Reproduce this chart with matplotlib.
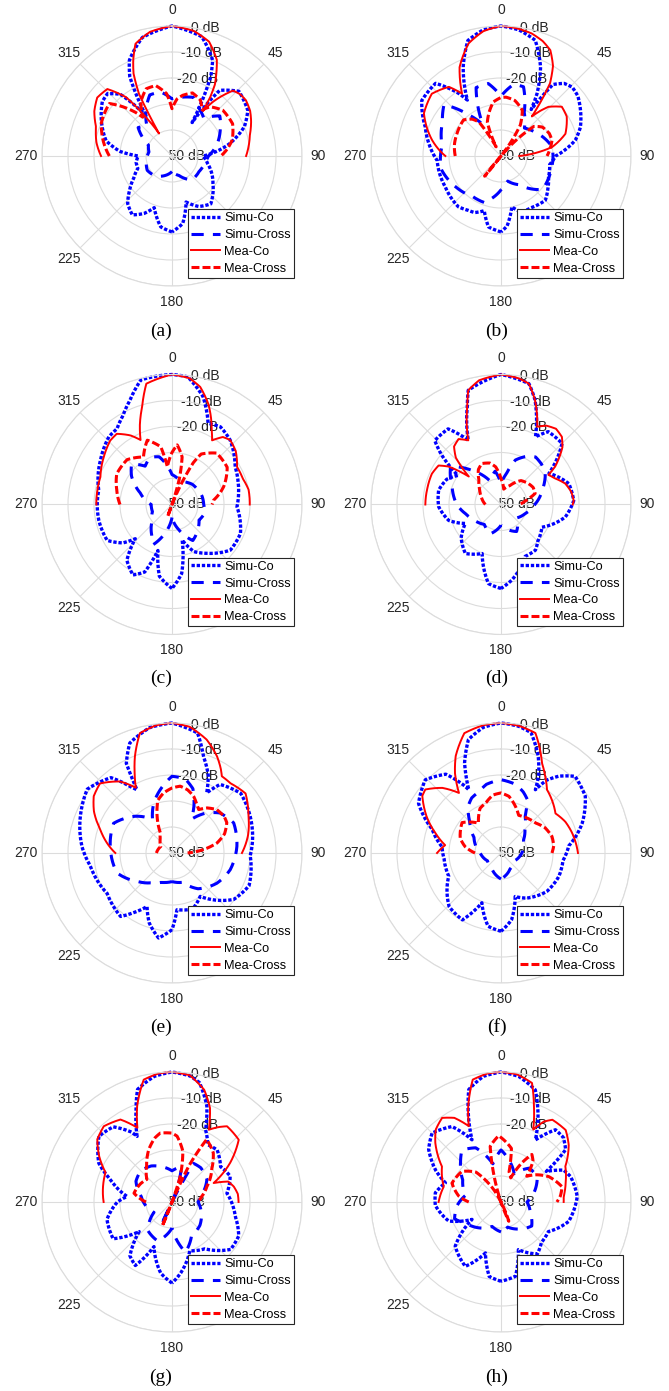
import numpy as np
import matplotlib
matplotlib.use("Agg")
import matplotlib.pyplot as plt
from matplotlib.transforms import ScaledTranslation

plt.rcParams['font.family'] = ['Liberation Sans', 'DejaVu Sans']

# ------------------------------------------------------------------
# Radiation patterns (angle in degrees, clockwise from broadside; level in dB)
# sc = simulated co-pol, sx = simulated cross-pol,
# mc = measured co-pol,  mx = measured cross-pol
# ------------------------------------------------------------------
a_sc_ang = [-180, -171, -161, -154, -146, -137, -129, -120, -110, -100, -90, -85, -77, -63, -52, -46, -40, -33, -28, -24,
            -14, 0, 14, 23, 26, 31, 36, 46, 59, 68, 78, 90, 102, 115, 124, 141, 152, 163, 171, 180]
a_sc_db = [-20.8, -22.4, -29, -25.4, -22.7, -25, -29, -33, -36, -36, -37, -30, -24, -19.5, -16, -15.5, -19, -32, -15.4, -9.7,
           -3, 0, -2.7, -10, -16, -35, -18.8, -14.2, -16, -20, -27.4, -38, -36, -33, -31, -26.3, -28, -31.5, -23.7, -20.8]
a_sx_ang = [-180, -160, -140, -120, -100, -80, -65, -50, -40, -30, -20, -10, 0, 10, 20, 30, 40, 50, 62, 75, 90, 100, 120, 140, 160, 180]
a_sx_db = [-44, -42, -40, -39, -40, -41, -40, -33, -35, -30, -25, -25, -28, -27, -26, -29, -31, -26, -29, -32, -36, -37, -38, -38, -42, -44]
a_mc_ang = [-90, -80, -69, -60, -52, -44, -38, -34, -30, -28, -25, -22, -18, -10, 0, 10, 18, 25, 31, 33, 34.5, 37, 39, 43, 48, 53, 60, 66, 75, 90]
a_mc_db = [-22.7, -20.5, -18.7, -15.5, -13.5, -14.2, -21.3, -32, -40, -23, -15, -10.2, -4.6, -1.5, 0, -1.2, -3.8, -9.2, -18, -23,
           -29, -24, -21, -15.6, -14.6, -14.4, -15.3, -16.7, -19, -21.5]
a_mx_ang = [-90, -78, -65, -55, -50, -45, -40, -37, -30, -21, -13, -5, 0, 5, 10, 18, 27, 33, 38, 48, 62, 75, 84, 90]
a_mx_db = [-25.9, -23, -20, -19, -18.6, -23.2, -28, -31.3, -26, -22.3, -22.2, -25.9, -31.8, -28, -26.3, -24.5, -25.9, -28.8,
           -26, -23.7, -23.6, -26, -29, -31.2]

b_sc_ang = [-180, -170, -163, -155, -149, -140, -119, -94, -80, -69, -55, -42, -34, -31, -23, -16, -8, 0, 8, 16.5,
            24, 30, 33, 36, 41, 46, 52, 60, 70, 78, 90, 100, 114, 125, 135, 150, 160, 168, 175, 180]
b_sc_db = [-20.8, -22.3, -28, -26, -25.6, -24.5, -25.5, -25.4, -21.8, -18.8, -12.8, -12.4, -21, -24.9, -12.8, -3.8, -1, 0, -1, -3.6,
           -12.6, -22.3, -28.7, -16, -13, -11.9, -12.5, -14.7, -17.5, -20.8, -29, -31, -30, -28, -25.9, -27, -27, -30, -23, -20.8]
b_sx_ang = [-180, -160, -145, -125, -102, -80, -60, -48, -38, -30, -20, -10, 0, 10, 18, 28, 40, 55, 80, 106, 129, 148, 165, 180]
b_sx_db = [-37, -31, -31, -29, -26.4, -27, -24, -20.5, -30, -36, -22, -21.7, -27, -22, -22, -31, -36, -34, -30, -30, -29.5, -37, -40, -37]
b_mc_ang = [-90, -77, -61, -48, -37, -32, -25, -16, -8, 0, 7, 14, 20, 25, 30, 34, 36, 38, 41, 44, 51, 59, 71, 80, 86, 90]
b_mc_db = [-28.6, -22.8, -16.1, -14.2, -16.7, -21.7, -12.3, -4.9, -1.5, 0, -0.5, -1.4, -3, -5.1, -10, -16.3, -23.4, -30.7,
           -27, -23.7, -19.9, -20.5, -23.8, -30, -38, -43]
b_mx_ang = [-90, -75, -63, -46, -38, -33, -28, -22, -16, -8, 0, 5, 14, 25, 32, 36, 39, 42, 48, 55, 65, 73, 82, 90]
b_mx_db = [-32.4, -31.5, -31, -30, -32, -34.4, -46, -36, -33, -29, -27.5, -27.3, -28, -30.6, -36, -45, -60, -45, -33, -30.6,
           -29.5, -29.5, -31, -32.3]

c_sc_ang = [-180, -170, -163, -158, -151, -141, -133, -128, -119, -102, -79, -58, -43, -36, -29, -22, -14, 0, 7, 16,
            24, 32, 42, 59, 70, 80, 92, 113, 128, 144, 155, 164, 172, 180]
c_sc_db = [-17.7, -22, -31.5, -22, -19, -22.4, -30.7, -26, -21.5, -21.2, -21.3, -17.6, -14.4, -14, -11, -6.8, -0.6, 0, -0.5, -6.8,
           -15.8, -14.8, -16.6, -21.7, -23, -24, -25, -21.4, -21.5, -26.8, -30, -35.8, -23.2, -17.7]
c_sx_ang = [-180, -165, -155, -146, -130, -110, -90, -70, -55, -45, -35, -25, -15, 0, 15, 30, 45, 60, 75, 90, 105, 120, 135, 150, 165, 180]
c_sx_db = [-45, -38, -33, -36, -40, -42, -42, -37, -31, -28, -32, -30, -31, -38.5, -40, -40, -39, -38.6, -38, -37.8, -37, -38, -36, -34, -40, -45]
c_mc_ang = [-90, -80, -69, -55, -44, -38, -31, -26, -22, -17, -12, 0, 8, 13.5, 20, 24, 28, 32, 37, 42, 50, 60, 70, 79, 90]
c_mc_db = [-20.9, -20.8, -20.5, -18, -15.8, -15.5, -19, -22.4, -17, -10.7, -2.5, 0, -1, -3.5, -9, -13.2, -17.5, -20.9,
           -17.5, -16.6, -18, -21.1, -21, -20, -20.1]
c_mx_ang = [-90, -75, -61, -45, -31, -21, -11, -7, 0, 5, 12, 16, 20, 24, 27, 30, 41, 56, 71, 84, 90]
c_mx_db = [-30, -28, -25.7, -25.6, -28.7, -23.5, -27.4, -35.4, -30, -27, -31.3, -40, -55, -42, -32, -27.6, -23.8, -24.4,
           -29, -33.9, -34.6]

d_sc_ang = [-180, -171, -159, -144, -130, -118, -107, -92, -77, -65, -56, -50, -46, -35, -27, -19, -16, 0, 13, 18,
            27, 33, 45, 57, 73, 87, 101, 119, 135, 143, 155, 172, 180]
d_sc_db = [-17.7, -19.2, -29.8, -26.7, -30, -34.5, -29, -26, -25.4, -27, -30, -20, -14.6, -14.5, -22.3, -10.2, -4.3, 0, -2.3, -7.7,
           -20.8, -16.6, -16.8, -28, -22.7, -22, -24.8, -32, -30, -28, -28, -20.6, -17.7]
d_sx_ang = [-180, -160, -140, -120, -105, -90, -70, -53, -40, -25, -10, 0, 10, 18, 28, 36, 45, 55, 70, 90, 110, 130, 150, 165, 180]
d_sx_db = [-42, -38, -40, -38, -36, -33, -30, -25.7, -33, -40, -37, -42, -38, -32, -29, -27.4, -28, -29.2, -33, -37, -40, -42, -38, -40, -42]
d_mc_ang = [-90, -78, -66, -58, -54, -49, -44, -39, -33, -27, -19, -16, -10, 0, 8, 13, 18, 22, 25, 30, 36, 42, 47, 55, 58,
            64, 72, 80, 87, 90]
d_mc_db = [-20.9, -21, -20.9, -21.7, -25.2, -33.6, -25, -21.3, -20, -22.3, -10.2, -4.3, -1.5, 0, -1, -2.3, -7.7, -13, -17, -15,
           -14, -15, -17.7, -24.6, -28.5, -27, -24, -22.5, -22, -22.4]
d_mx_ang = [-90, -70, -55, -42, -33, -25, -15, -8, 0, 10, 25, 40, 53, 62, 72, 80, 90]
d_mx_db = [-44, -42, -40, -37.3, -34, -32.6, -33.5, -35.4, -40, -44, -42, -38, -36.7, -36, -36.2, -40, -43]

e_sc_ang = [-180, -171, -162, -155, -147, -141, -122, -99, -86, -68, -53, -39, -32, -29, -27, -21, -10, 0, 12, 18,
            25, 30, 35, 49, 65, 92, 113, 127, 147, 160, 175, 180]
e_sc_db = [-20.5, -16.9, -21.7, -27.3, -22.6, -18.6, -20.6, -18.2, -15.3, -12, -9.2, -12.7, -20, -22.2, -11.3, -4.7, -1, 0, -2.8, -10.9,
           -17, -23.3, -17.8, -15, -16.8, -19.9, -17.8, -20.3, -30.1, -27, -28.1, -20.5]
e_sx_ang = [-180, -160, -145, -129, -110, -87, -63, -45, -30, -20, -10, 0, 10, 18, 25, 30, 40, 50, 64, 84, 106, 124, 144, 160, 180]
e_sx_db = [-39, -38, -36, -32.7, -27.5, -26.3, -24.8, -30, -35, -29.5, -25, -20.5, -21, -24, -30, -35, -30, -26, -23.6, -24.9,
           -26.7, -29.2, -33, -38, -39]
e_mc_ang = [-90, -72, -62, -54, -46, -36, -29, -25, -21, -15, -7, 0, 8, 17, 25, 30, 33, 40, 51, 64, 77, 90]
e_mc_db = [-28.2, -21, -16, -12.8, -11.5, -16, -21.3, -16, -10.2, -2.3, -0.5, 0, -1, -4.4, -9, -12.5, -14.8, -15, -13.6, -17.3, -20, -23.1]
e_mx_ang = [-90, -60, -40, -30, -22, -15, -8, 0, 7, 14, 21, 27, 31.6, 38, 46, 55, 61, 70, 77.5, 84, 90]
e_mx_db = [-44, -45, -43, -41, -34.7, -29, -26.7, -25, -24.1, -25, -26.7, -29, -30.4, -28, -26, -25.5, -25.9, -28.5, -32.3, -38, -44]

f_sc_ang = [-180, -170, -159, -150, -136, -114, -96, -84, -71, -59, -46, -35, -29, -27, -22, -16, -8, 0, 8, 14,
            21, 26, 28.5, 32, 37, 44, 56, 70, 84, 97, 112, 130, 150, 162, 171, 180]
f_sc_db = [-19.9, -21.4, -29.5, -20.3, -21.3, -28, -28, -27.2, -22, -13, -9.5, -13, -20, -22.7, -12.6, -4.6, -1.2, 0, -0.8, -2.3,
           -10.1, -17, -22.3, -17, -13, -9, -10.9, -16.8, -23.8, -26, -26, -27, -30, -32.4, -24, -19.9]
f_sx_ang = [-180, -150, -120, -90, -60, -45, -35, -28, -20, -12, 0, 12, 20, 26, 33, 45, 60, 90, 120, 150, 180]
f_sx_db = [-40, -43, -44, -42, -38, -33, -28, -26, -25, -23, -21.8, -23, -25, -27, -33, -37, -40, -42, -44, -43, -40]
f_mc_ang = [-90, -82, -73, -64, -54, -50, -42, -35, -30, -25, -17, -8, 0, 8, 16, 24.5, 30, 36, 45, 54, 64, 74, 82, 90]
f_mc_db = [-25.4, -28.3, -23.6, -18.2, -12.6, -12, -16.3, -21.8, -14.6, -8.8, -1.8, -0.4, 0, -0.6, -2, -12, -16, -19.9,
           -22, -24.1, -22.5, -21.6, -21, -20.4]
f_mx_ang = [-90, -80, -70, -52, -37, -25, -17, -8, 0, 8, 20, 25, 30, 40, 49, 60, 72, 82, 90]
f_mx_db = [-40, -36, -33.3, -31, -35.6, -31, -29.9, -27.5, -26.9, -28, -32.2, -34, -33.7, -33, -32.4, -30.5, -29.4, -29.5, -30.4]

g_sc_ang = [-180, -171, -158, -150, -142, -132, -122, -105, -90, -83, -70, -62, -48, -38, -30, -28, -22, -17, -8, 0,
            8, 13, 20, 25, 32, 41, 54, 66, 81, 103, 117, 129, 145, 160, 173, 180]
g_sc_db = [-18.8, -22.3, -31.5, -21.8, -23.7, -33, -23.3, -24.1, -29, -32.6, -24.8, -18.1, -12.2, -13.3, -19, -21.4, -13, -4.7, -1.2, 0,
           -1, -2.9, -10.8, -19.4, -24, -23.5, -26.9, -25.5, -28.6, -25, -21.2, -21, -28, -30, -22.5, -18.8]
g_sx_ang = [-180, -160, -140, -120, -100, -80, -60, -45, -30, -15, 0, 15, 21, 25, 29, 40, 57, 75, 90, 110, 130, 150, 165, 180]
g_sx_db = [-40, -34, -35.6, -42, -40, -38, -34, -33, -34, -36, -38, -36, -45, -60, -33, -32.8, -34, -38, -40, -38, -36, -35, -30, -40]
g_mc_ang = [-90, -80, -66, -58, -50, -42, -32, -25, -20, -13, -6, 0, 8, 16, 22, 27, 32, 36, 47, 56, 65.5, 70, 76, 83, 90]
g_mc_db = [-23.7, -23, -22, -17, -12.5, -10.8, -12.6, -18.5, -10.8, -1.7, -0.3, 0, -0.8, -5.1, -11, -18.8, -16, -14,
           -14.9, -23, -32.4, -27, -25.5, -24.5, -24.4]
g_mx_ang = [-90, -77, -60, -48, -35, -24, -15, -9.6, 0, 4.4, 12, 18, 22, 25, 29, 40, 50, 66, 80, 90]
g_mx_db = [-40, -35, -36, -37, -33, -28, -24.5, -23.1, -23.5, -24.6, -30, -40, -60, -35, -22.5, -25.3, -30, -35.3, -38.5, -40]

h_sc_ang = [-180, -171, -163, -151, -134, -121, -110, -93, -82, -71, -64, -54, -45, -33, -25, -22, -16, -8, 0, 8,
            17, 24, 29, 37, 44, 51, 56, 63, 70, 86, 106, 122, 135, 145, 160, 169, 180]
h_sc_db = [-19.5, -21, -29.5, -21.7, -25.5, -37, -28.6, -24.7, -24.5, -27.4, -22, -15.6, -12.5, -15.4, -23.6, -17.2, -5, -1.2, 0, -1.2,
           -4.9, -15, -22.7, -15.2, -15.5, -18, -29, -23, -21.5, -20.6, -22.9, -28.5, -28, -25.6, -30.5, -20.9, -19.5]
h_sx_ang = [-180, -160, -140, -120, -110, -95, -80, -60, -45, -37, -25, -12, 0, 12, 25, 40, 55, 70, 90, 110, 128, 150, 165, 180]
h_sx_db = [-38.5, -40, -37, -34, -31, -33, -36, -33, -28, -25, -27, -35, -30, -34, -38, -33, -33, -36, -40, -38, -35, -38, -40, -38.5]
h_mc_ang = [-90, -75, -59, -48, -42, -35, -29, -23, -19, -13, -6, 0, 7, 14.6, 19, 24, 28, 32, 42, 50, 61, 73, 85, 90]
h_mc_db = [-26, -27.2, -23.5, -16, -12.5, -10.5, -13, -18.3, -11.2, -1.7, -0.3, 0, -0.5, -2.7, -11.1, -19.5, -15, -12.7,
           -12.8, -16, -21.7, -24, -25.8, -25.9]
h_mx_ang = [-90, -82, -69, -52, -40, -30, -22, -15, -11, -2, 11, 15, 22, 28, 33, 38, 45, 52, 62, 76, 84, 90]
h_mx_db = [-37.6, -33.6, -29.8, -30.9, -35, -45, -58, -40, -28.2, -24.5, -29, -38, -40, -33, -28.2, -30, -36, -33, -29.2,
           -25.8, -27, -28.5]

series_names = ['Simu-Co', 'Simu-Cross', 'Mea-Co', 'Mea-Cross']
panel_tags = ['(a)', '(b)', '(c)', '(d)', '(e)', '(f)', '(g)', '(h)']
theta_grid = [0, 45, 90, 135, 180, 225, 270, 315]
theta_labels = [0, 45, 90, 180, 225, 270, 315]   # the 135 bearing sits under the legend
ring_db = [-50, -40, -30, -20, -10, 0]
ring_labels = [-50, -20, -10, 0]

panels = [
    [(a_sc_ang, a_sc_db), (a_sx_ang, a_sx_db), (a_mc_ang, a_mc_db), (a_mx_ang, a_mx_db)],
    [(b_sc_ang, b_sc_db), (b_sx_ang, b_sx_db), (b_mc_ang, b_mc_db), (b_mx_ang, b_mx_db)],
    [(c_sc_ang, c_sc_db), (c_sx_ang, c_sx_db), (c_mc_ang, c_mc_db), (c_mx_ang, c_mx_db)],
    [(d_sc_ang, d_sc_db), (d_sx_ang, d_sx_db), (d_mc_ang, d_mc_db), (d_mx_ang, d_mx_db)],
    [(e_sc_ang, e_sc_db), (e_sx_ang, e_sx_db), (e_mc_ang, e_mc_db), (e_mx_ang, e_mx_db)],
    [(f_sc_ang, f_sc_db), (f_sx_ang, f_sx_db), (f_mc_ang, f_mc_db), (f_mx_ang, f_mx_db)],
    [(g_sc_ang, g_sc_db), (g_sx_ang, g_sx_db), (g_mc_ang, g_mc_db), (g_mx_ang, g_mx_db)],
    [(h_sc_ang, h_sc_db), (h_sx_ang, h_sx_db), (h_mc_ang, h_mc_db), (h_mx_ang, h_mx_db)],
]

FLOOR = -50.0

line_styles = [
    dict(color=(0, 0, 1), lw=2.4, ls=(0, (1.0, 0.55))),
    dict(color=(0, 0, 1), lw=2.2, ls=(0, (4.0, 3.0))),
    dict(color=(1, 0, 0), lw=1.4, ls='-'),
    dict(color=(1, 0, 0), lw=2.2, ls=(0, (2.6, 1.0))),
]


def fold_below_floor(ang_deg, db, floor=FLOOR):
    """Levels under the radial floor continue through the centre onto the
    opposite bearing, the way a dB polar plot with a fixed minimum draws them."""
    th = np.radians(np.asarray(ang_deg, float))
    r = np.asarray(db, float) - floor
    ts, rs = [], []
    for i in range(len(r)):
        if i and (r[i - 1] < 0) != (r[i] < 0):
            f = r[i - 1] / (r[i - 1] - r[i])
            tc = th[i - 1] + f * (th[i] - th[i - 1])
            ts += [tc, tc + np.pi] if r[i - 1] >= 0 else [tc + np.pi, tc]
            rs += [0.0, 0.0]
        if r[i] >= 0:
            ts.append(th[i]); rs.append(r[i])
        else:
            ts.append(th[i] + np.pi); rs.append(-r[i])
    return np.array(ts), np.array(rs) + floor


# ---- figure layout (pixels) ----
W, H, DPI = 669, 1391, 100
R_PX = 130
PX_PER_DB = R_PX / 50.0
LABEL_R_PX = 146          # centre of the bearing labels
col_x = [172, 501]
row_y = [156, 504.5, 853, 1202]
cap_x = [161, 497]
cap_y = [331, 678, 1027, 1377]

fig = plt.figure(figsize=(W / DPI, H / DPI), dpi=DPI)
fig.patch.set_facecolor('white')

grid_col = '#dcdcdc'
text_col = '#262626'

for k, series in enumerate(panels):
    row, col = divmod(k, 2)
    cx, cy = col_x[col], row_y[row]
    ax = fig.add_axes([(cx - R_PX) / W, 1 - (cy + R_PX) / H, 2 * R_PX / W, 2 * R_PX / H],
                      projection='polar')
    ax.set_theta_zero_location('N')
    ax.set_theta_direction(-1)
    ax.set_ylim(FLOOR, 0)
    ax.set_yticks(ring_db)
    ax.set_yticklabels([])
    ax.set_xticks(np.radians(theta_grid))
    ax.set_xticklabels([])
    ax.grid(True, color=grid_col, lw=0.8)
    ax.spines['polar'].set_color(grid_col)
    ax.spines['polar'].set_linewidth(0.8)

    # bearing labels, centred on a circle just outside the 0 dB ring
    for t in theta_labels:
        ax.text(np.radians(t), (LABEL_R_PX - R_PX) / PX_PER_DB, str(t), ha='center', va='center',
                fontsize=10, color=text_col, clip_on=False, zorder=3)

    off = ScaledTranslation(13 / DPI, 0, fig.dpi_scale_trans)
    for v in ring_labels:
        ax.text(np.radians(9), v, f'{v} dB', transform=ax.transData + off,
                ha='center', va='center', fontsize=10, color=text_col, zorder=1)

    for (ang, db), st, name in zip(series, line_styles, series_names):
        th, r = fold_below_floor(ang, db)
        ln, = ax.plot(th, r, color=st['color'], lw=st['lw'], linestyle=st['ls'],
                      label=name, clip_on=False, dash_capstyle='butt', zorder=2)
        # draw segments as arcs in (theta, r) rather than chords
        ln.get_path()._interpolation_steps = 24

    leg = ax.legend(loc='lower right', bbox_to_anchor=(0.5 + 122 / 260, 0.5 - 122 / 260),
                    borderaxespad=0, fontsize=9.2, handlelength=2.3, handletextpad=0.3,
                    borderpad=0.25, labelspacing=0.38, fancybox=False,
                    edgecolor=text_col, framealpha=1)
    leg.get_frame().set_linewidth(0.8)
    leg.set_zorder(6)

    fig.text(cap_x[col] / W, 1 - cap_y[row] / H, panel_tags[k], ha='center', va='center',
             family=['Liberation Serif', 'DejaVu Serif'], fontsize=14)

fig.savefig('out.png', dpi=DPI, facecolor='white')
